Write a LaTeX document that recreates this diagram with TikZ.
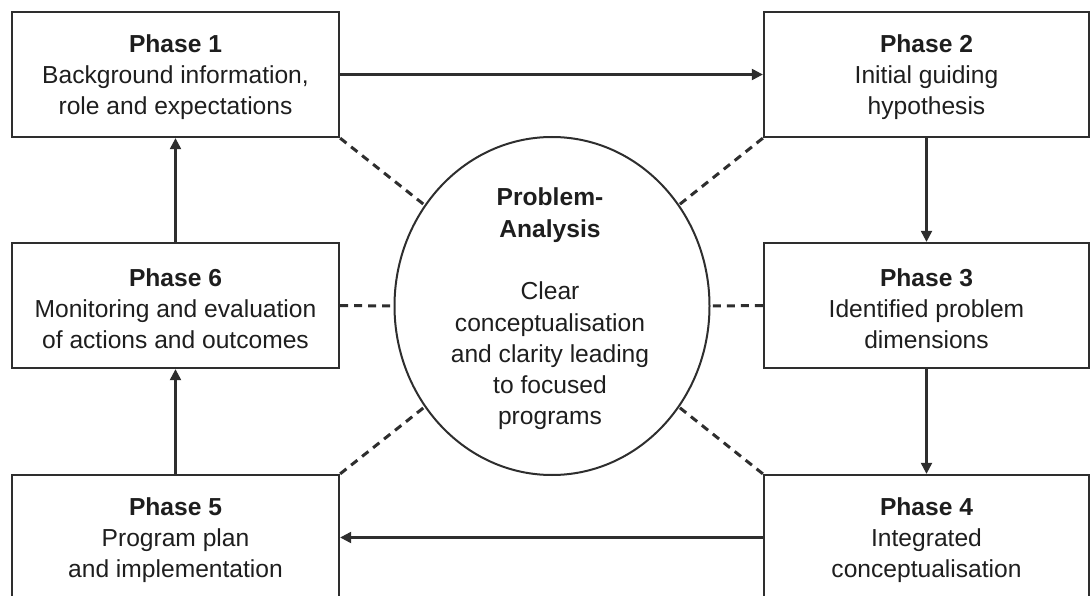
\documentclass[tikz,border=0pt]{standalone}
\usepackage{fontspec}
\setmainfont{Liberation Sans}
\usetikzlibrary{arrows.meta,shapes.geometric}
\definecolor{ink}{HTML}{1E1E1E}
\definecolor{rule}{HTML}{2E2E2E}
\begin{document}
\begin{tikzpicture}[x=1pt,y=-1pt,
  phasebox/.style={draw=rule, line width=2.3pt, rectangle, inner sep=0pt,
    minimum height=125pt, align=center, text=ink,
    font=\fontsize{24.6}{31}\selectfont},
  leftbox/.style={phasebox, minimum width=327pt},
  rightbox/.style={phasebox, minimum width=325pt},
  flow/.style={draw=rule, line width=2.2pt, -{Triangle[length=11pt,width=11pt]}},
  link/.style={draw=rule, line width=3pt, dash pattern=on 8pt off 6pt},
  hub/.style={draw=rule, line width=2pt, ellipse, inner sep=0pt,
    minimum width=315pt, minimum height=338pt},
  hubtext/.style={align=center, text=ink, font=\fontsize{24.6}{31.3}\selectfont}
]
\clip (0,0) rectangle (1090,596);

% phase boxes
\node[leftbox]  (P1) at (175.5,74.5)  {\rule{0pt}{24pt}\textbf{Phase 1}\\Background information,\\role and expectations};
\node[rightbox] (P2) at (926.5,74.5)  {\rule{0pt}{24pt}\textbf{Phase 2}\\Initial guiding\\hypothesis};
\node[rightbox] (P3) at (926.5,305.5) {\rule{0pt}{24pt}\textbf{Phase 3}\\Identified problem\\dimensions};
\node[rightbox] (P4) at (926.5,537.5) {\rule{0pt}{24pt}\textbf{Phase 4}\\Integrated\\conceptualisation};
\node[leftbox]  (P5) at (175.5,537.5) {\rule{0pt}{24pt}\textbf{Phase 5}\\Program plan\\and implementation};
\node[leftbox]  (P6) at (175.5,305.5) {\rule{0pt}{24pt}\textbf{Phase 6}\\Monitoring and evaluation\\of actions and outcomes};

% central problem analysis
\node[hub] (E) at (552,306) {};
\node[hubtext] (T) at (550,309) {\textbf{Problem-}\\\textbf{Analysis}\\[31.3pt]Clear\\conceptualisation\\and clarity leading\\to focused\\programs};

% cycle of phases
\draw[flow] (P1.east) -- (P2.west);
\draw[flow] (P2.south) -- (P3.north);
\draw[flow] (P3.south) -- (P4.north);
\draw[flow] (P4.west) -- (P5.east);
\draw[flow] (P5.north) -- (P6.south);
\draw[flow] (P6.north) -- (P1.south);

% links to the hub
\draw[link] (P1.south east) -- (E);
\draw[link] (P2.south west) -- (E);
\draw[link] (P4.north west) -- (E);
\draw[link] (P5.north east) -- (E);
\draw[link] (P6) -- (E);
\draw[link] (P3) -- (E);
\end{tikzpicture}
\end{document}
